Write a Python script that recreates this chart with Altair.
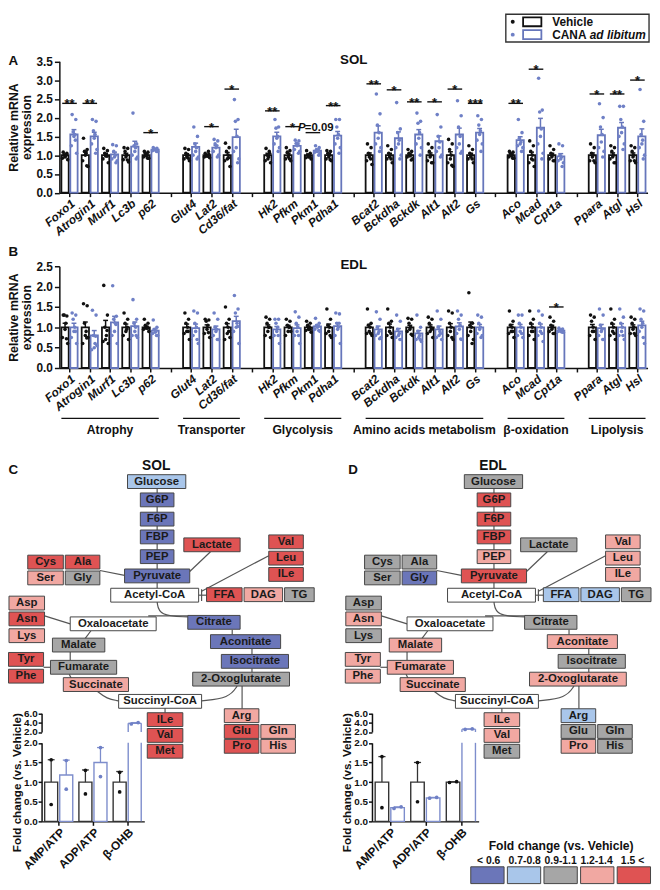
import altair as alt
import pandas as pd

# ---------------- canvas: page pixel = reference pixel (chart origin sits at the 8px page margin) --------
W, H = 652, 882
OX, OY = 8, 8


def sx(v):
    return round(v - OX, 2)


def sy(v):
    return round(v - OY, 2)


FONT = "Liberation Sans"
INK = "#111111"
BLUE = "#6676bb"
BLUE_DOT = "#6f80c6"

# ---------------- panel A / B data ----------------
GROUPS = ["Atrophy", "Transporter", "Glycolysis", "Amino acids metabolism", "β-oxidation", "Lipolysis"]
GROUP_GENES = [
    ["Foxo1", "Atrogin1", "Murf1", "Lc3b", "p62"],
    ["Glut4", "Lat2", "Cd36/fat"],
    ["Hk2", "Pfkm", "Pkm1", "Pdha1"],
    ["Bcat2", "Bckdha", "Bckdk", "Alt1", "Alt2", "Gs"],
    ["Aco", "Mcad", "Cpt1a"],
    ["Ppara", "Atgl", "Hsl"],
]
GENES = [g for grp in GROUP_GENES for g in grp]

SOL_VEH_MEAN = [1.0] * 24
SOL_VEH_SEM = [0.03, 0.09, 0.05, 0.05, 0.03, 0.04, 0.02, 0.07, 0.05, 0.05, 0.03, 0.04,
               0.06, 0.05, 0.03, 0.06, 0.09, 0.05, 0.03, 0.08, 0.05, 0.06, 0.06, 0.06]
SOL_CANA_MEAN = [1.55, 1.50, 1.02, 1.23, 1.15, 1.22, 1.20, 1.48, 1.50, 1.25, 1.12, 1.52,
                 1.60, 1.45, 1.55, 1.37, 1.55, 1.60, 1.40, 1.73, 0.97, 1.53, 1.73, 1.50]
SOL_CANA_SEM = [0.13, 0.11, 0.06, 0.14, 0.02, 0.10, 0.06, 0.21, 0.11, 0.05, 0.03, 0.11,
                0.18, 0.17, 0.13, 0.14, 0.17, 0.11, 0.09, 0.25, 0.07, 0.16, 0.14, 0.20]
SOL_VEH_DOTS = [
    [1.08, 1.05, 1.0, 0.98, 0.95, 0.92, 0.88, 1.02], [1.45, 1.15, 1.1, 1.05, 1.0, 0.85, 0.7, 0.72],
    [1.18, 1.12, 1.05, 1.0, 0.98, 0.9, 0.8, 0.97], [1.2, 1.18, 1.1, 1.0, 0.95, 0.88, 0.82, 0.87],
    [1.1, 1.08, 1.05, 1.0, 0.98, 0.95, 0.92, 0.92], [1.18, 1.15, 1.05, 1.0, 0.95, 0.9, 0.85, 0.92],
    [1.05, 1.02, 1.0, 0.98, 0.97, 0.95, 0.93, 1.1], [1.32, 1.2, 1.1, 1.0, 0.9, 0.85, 0.7, 0.93],
    [1.18, 1.05, 1.0, 0.95, 0.9, 0.85, 0.8, 1.1], [1.2, 1.12, 1.08, 1.0, 0.95, 0.9, 0.85, 0.9],
    [1.12, 1.05, 1.0, 0.98, 0.95, 0.93, 0.9, 0.95], [1.12, 1.1, 1.05, 1.0, 0.95, 0.9, 0.85, 0.88],
    [1.3, 1.2, 1.05, 1.0, 0.95, 0.85, 0.75, 0.9], [1.25, 1.15, 1.05, 1.0, 0.95, 0.9, 0.8, 0.9],
    [1.15, 1.1, 1.05, 1.0, 0.98, 0.95, 0.9, 0.87], [1.3, 1.2, 1.1, 1.0, 0.95, 0.85, 0.8, 0.8],
    [1.42, 1.3, 1.15, 1.0, 0.9, 0.8, 0.7, 0.73], [1.25, 1.15, 1.05, 1.0, 0.95, 0.9, 0.8, 0.9],
    [1.1, 1.08, 1.05, 1.0, 0.98, 0.95, 0.92, 0.92], [1.38, 1.25, 1.1, 1.0, 0.9, 0.8, 0.7, 0.87],
    [1.25, 1.15, 1.05, 1.0, 0.95, 0.9, 0.85, 0.85], [1.3, 1.2, 1.05, 1.0, 0.95, 0.85, 0.8, 0.85],
    [1.25, 1.2, 1.1, 1.0, 0.95, 0.9, 0.8, 0.8], [1.25, 1.2, 1.1, 1.0, 0.95, 0.85, 0.8, 0.85],
]
SOL_CANA_DOTS = [
    [2.08, 1.95, 1.62, 1.55, 1.5, 1.25, 1.05, 1.4], [1.95, 1.9, 1.65, 1.55, 1.45, 1.3, 1.15, 1.05],
    [1.28, 1.25, 1.1, 1.0, 0.95, 0.9, 0.85, 0.8], [2.12, 1.3, 1.25, 1.2, 1.1, 1.0, 0.95, 0.9],
    [1.2, 1.18, 1.17, 1.15, 1.14, 1.12, 1.1, 1.1], [1.75, 1.5, 1.3, 1.2, 1.1, 1.0, 0.95, 0.9],
    [1.42, 1.38, 1.3, 1.25, 1.2, 1.1, 1.0, 0.95], [2.48, 1.95, 1.9, 1.5, 1.2, 1.1, 0.9, 0.8],
    [1.95, 1.75, 1.72, 1.5, 1.45, 1.3, 1.2, 1.1], [1.4, 1.38, 1.32, 1.3, 1.25, 1.15, 1.1, 1.05],
    [1.25, 1.2, 1.15, 1.12, 1.1, 1.08, 1.05, 1.0], [1.95, 1.95, 1.75, 1.55, 1.45, 1.3, 1.2, 1.05],
    [2.63, 2.1, 1.8, 1.6, 1.45, 1.3, 1.2, 1.1], [2.4, 1.7, 1.6, 1.4, 1.3, 1.2, 1.0, 0.9],
    [2.12, 1.9, 1.85, 1.6, 1.45, 1.3, 1.2, 1.0], [2.08, 1.75, 1.5, 1.35, 1.2, 1.1, 1.0, 0.95],
    [2.45, 2.05, 1.75, 1.5, 1.3, 1.2, 1.1, 1.05], [2.05, 1.95, 1.8, 1.65, 1.55, 1.4, 1.3, 1.1],
    [1.95, 1.6, 1.45, 1.35, 1.3, 1.25, 1.2, 1.1], [3.05, 2.2, 2.15, 1.7, 1.5, 1.3, 1.05, 0.9],
    [1.3, 1.25, 1.0, 0.95, 0.9, 0.85, 0.8, 0.7], [2.37, 2.0, 1.75, 1.55, 1.35, 1.2, 1.1, 0.95],
    [2.3, 2.3, 1.95, 1.75, 1.6, 1.5, 1.3, 1.15], [2.75, 1.9, 1.55, 1.4, 1.3, 1.2, 1.0, 0.9],
]
SOL_SIG = [("Foxo1", 2.38, "**"), ("Atrogin1", 2.38, "**"), ("p62", 1.6, "*"), ("Lat2", 1.76, "*"),
           ("Cd36/fat", 2.76, "*"), ("Hk2", 2.18, "**"), ("Pfkm", 1.76, "*"), ("Pkm1", 1.6, ""),
           ("Pdha1", 2.32, "**"), ("Bcat2", 2.9, "**"), ("Bckdha", 2.74, "*"), ("Bckdk", 2.42, "**"),
           ("Alt1", 2.42, "*"), ("Alt2", 2.76, "*"), ("Gs", 2.38, "***"), ("Aco", 2.38, "**"),
           ("Mcad", 3.29, "*"), ("Ppara", 2.63, "*"), ("Atgl", 2.63, "**"), ("Hsl", 3.0, "*")]

EDL_VEH_MEAN = [1.0] * 24
EDL_VEH_SEM = [0.10, 0.13, 0.17, 0.08, 0.03, 0.08, 0.06, 0.09, 0.06, 0.05, 0.03, 0.08,
               0.07, 0.08, 0.05, 0.06, 0.09, 0.13, 0.07, 0.08, 0.05, 0.07, 0.08, 0.06]
EDL_CANA_MEAN = [1.0, 0.80, 1.12, 1.03, 0.92, 0.98, 0.95, 1.15, 0.95, 0.98, 1.02, 1.03,
                 0.95, 0.90, 0.85, 0.95, 1.02, 1.0, 1.0, 1.0, 0.92, 0.98, 1.0, 1.05]
EDL_CANA_SEM = [0.10, 0.12, 0.15, 0.10, 0.04, 0.10, 0.08, 0.12, 0.07, 0.08, 0.03, 0.08,
                0.08, 0.07, 0.07, 0.08, 0.09, 0.07, 0.07, 0.08, 0.02, 0.09, 0.09, 0.10]
EDL_VEH_DOTS = [
    [1.3, 1.28, 1.3, 1.1, 0.95, 0.75, 0.6, 0.72], [1.58, 1.53, 1.1, 0.9, 0.8, 0.6, 0.75, 0.74],
    [2.03, 1.3, 1.0, 0.8, 0.7, 0.65, 0.6, 0.92], [1.35, 1.2, 1.1, 0.95, 0.9, 0.8, 0.7, 1.0],
    [1.2, 1.1, 1.05, 1.0, 0.98, 0.95, 0.9, 0.98], [1.35, 1.2, 1.1, 1.0, 0.9, 0.85, 0.7, 0.9],
    [1.2, 1.18, 1.15, 1.05, 0.95, 0.85, 0.75, 0.87], [1.5, 1.2, 1.1, 1.0, 0.85, 0.7, 0.75, 0.9],
    [1.25, 1.2, 1.1, 1.0, 0.9, 0.8, 0.75, 1.0], [1.2, 1.15, 1.05, 1.0, 0.9, 0.8, 0.9, 1.0],
    [1.15, 1.1, 1.05, 1.0, 0.95, 0.92, 0.88, 0.95], [1.45, 1.2, 1.05, 1.0, 0.9, 0.85, 0.75, 0.8],
    [1.45, 1.1, 1.05, 1.0, 0.9, 0.85, 0.8, 0.85], [1.45, 1.15, 1.1, 1.0, 0.9, 0.8, 0.75, 0.85],
    [1.22, 1.2, 1.1, 1.0, 0.95, 0.9, 0.8, 0.83], [1.25, 1.2, 1.1, 1.0, 0.9, 0.85, 0.75, 0.95],
    [1.4, 1.35, 1.1, 1.0, 0.9, 0.8, 0.7, 0.75], [1.85, 1.1, 1.05, 1.0, 0.9, 0.8, 0.7, 0.6],
    [1.4, 1.15, 1.05, 1.0, 0.9, 0.85, 0.75, 0.9], [1.4, 1.2, 1.1, 1.0, 0.9, 0.8, 0.7, 0.9],
    [1.25, 1.15, 1.05, 1.0, 0.95, 0.9, 0.85, 0.85], [1.3, 1.25, 1.15, 1.0, 0.9, 0.8, 0.7, 0.9],
    [1.45, 1.2, 1.1, 1.0, 0.9, 0.8, 0.7, 0.85], [1.25, 1.2, 1.1, 1.0, 0.95, 0.85, 0.8, 0.85],
]
EDL_CANA_DOTS = [
    [1.35, 1.3, 1.2, 1.0, 0.9, 0.75, 0.6, 0.9], [1.42, 1.3, 0.8, 0.6, 0.5, 0.45, 0.55, 0.78],
    [2.02, 1.27, 1.2, 1.1, 0.9, 0.8, 0.6, 1.07], [1.68, 1.2, 1.1, 1.0, 0.9, 0.8, 0.75, 0.8],
    [1.18, 1.0, 0.95, 0.9, 0.88, 0.85, 0.8, 0.8], [1.4, 1.35, 1.1, 1.0, 0.9, 0.8, 0.6, 0.7],
    [1.35, 1.2, 1.0, 0.95, 0.9, 0.8, 0.7, 0.7], [1.78, 1.45, 1.35, 1.1, 1.0, 0.9, 0.6, 1.02],
    [1.2, 1.2, 1.1, 1.0, 0.9, 0.8, 0.6, 0.8], [1.38, 1.25, 1.1, 1.0, 0.9, 0.8, 0.6, 0.8],
    [1.22, 1.1, 1.05, 1.02, 1.0, 0.95, 0.9, 0.92], [1.35, 1.33, 1.1, 1.0, 0.95, 0.8, 0.6, 1.1],
    [1.38, 1.2, 1.0, 0.9, 0.85, 0.8, 0.75, 0.72], [1.3, 1.15, 0.95, 0.85, 0.8, 0.75, 0.7, 0.7],
    [1.3, 1.0, 0.9, 0.8, 0.75, 0.7, 0.65, 0.7], [1.4, 1.2, 1.0, 0.9, 0.8, 0.75, 0.7, 0.85],
    [1.4, 1.3, 1.2, 1.05, 0.95, 0.85, 0.7, 0.71], [1.3, 1.25, 1.1, 1.0, 0.95, 0.85, 0.8, 0.75],
    [1.3, 1.3, 1.1, 1.0, 0.9, 0.8, 0.75, 0.85], [1.4, 1.3, 1.1, 1.0, 0.9, 0.8, 0.65, 0.85],
    [0.98, 0.96, 0.94, 0.92, 0.9, 0.9, 0.88, 0.88], [1.45, 1.3, 1.05, 0.95, 0.9, 0.8, 0.7, 0.7],
    [1.45, 1.25, 1.1, 1.0, 0.9, 0.8, 0.7, 0.8], [1.45, 1.4, 1.2, 1.1, 1.0, 0.9, 0.6, 0.75],
]
EDL_SIG = [("Cpt1a", 1.5, "*")]

# ---------------- inset data (C, D) ----------------
INSET_CATS = ["AMP/ATP", "ADP/ATP", "β-OHB"]
SOL_IN_VEH_MEAN = [1.0, 1.0, 1.0]
SOL_IN_VEH_ERR = [0.57, 0.31, 0.27]
SOL_IN_VEH_DOTS = [[0.43, 1.57], [0.70, 1.30], [0.75, 1.25]]
SOL_IN_CANA_MEAN = [1.18, 1.50, 3.85]
SOL_IN_CANA_ERR = [0.38, 0.38, 0.15]
SOL_IN_CANA_DOTS = [[0.82, 1.55], [1.14, 1.88], [3.70, 4.00]]
EDL_IN_VEH_MEAN = [1.0, 1.0, 1.0]
EDL_IN_VEH_ERR = [0.65, 0.50, 0.01]
EDL_IN_VEH_DOTS = [[0.35, 1.65], [0.50, 1.50], [0.99, 1.01]]
EDL_IN_CANA_MEAN = [0.35, 0.60, 2.60]
EDL_IN_CANA_ERR = [0.02, 0.01, 0.05]
EDL_IN_CANA_DOTS = [[0.33, 0.37], [0.59, 0.61], [2.55, 2.65]]

# ---------------- metabolic map (C layout, D = C shifted) ----------------
NODES = [
    ("Glucose", 129, 188, 482), ("G6P", 142, 176, 500.5), ("F6P", 142, 176, 520), ("FBP", 142, 176, 538),
    ("PEP", 142, 176, 558), ("Pyruvate", 126, 192, 577.5), ("Lactate", 186, 243, 546),
    ("Cys", 28, 64, 563.5), ("Ala", 66, 101, 563.5), ("Ser", 28, 64, 579.5), ("Gly", 66, 101, 579.5),
    ("Val", 272, 307, 543), ("Leu", 272, 307, 559.5), ("ILe", 272, 307, 576),
    ("Acetyl-CoA", 112, 201, 597), ("FFA", 209, 245, 596.5), ("DAG", 247, 286, 596.5), ("TG", 288, 318, 596.5),
    ("Asp", 9, 45, 605), ("Asn", 9, 45, 621), ("Lys", 9, 45, 638),
    ("Oxaloacetate", 71, 158, 626), ("Citrate", 190, 243, 624.5), ("Malate", 53, 106, 647.5),
    ("Aconitate", 213, 284, 644), ("Tyr", 8.5, 44, 662), ("Phe", 8.5, 44, 679), ("Fumarate", 51, 118, 670),
    ("Isocitrate", 224, 292, 664), ("Succinate", 64, 130, 687.5), ("2-Oxoglutarate", 195, 293, 682),
    ("Succinyl-CoA", 120, 204, 704.5), ("ILe", 149, 185, 723), ("Val", 149, 185, 739), ("Met", 149, 185, 755),
    ("Arg", 227, 262, 719), ("Glu", 227, 262, 735), ("Gln", 264, 299, 735), ("Pro", 227, 262, 750),
    ("His", 264, 299, 750),
]
SOL_COLORS = ["lb", "b", "b", "b", "b", "b", "r", "r", "r", "lr", "g", "r", "r", "r", "w", "r", "lr", "g",
              "lr", "r", "lr", "w", "b", "g", "b", "r", "r", "g", "b", "lr", "g", "w", "r", "r", "r",
              "lr", "r", "lr", "r", "lr"]
EDL_COLORS = ["g", "r", "r", "r", "lr", "r", "g", "g", "g", "g", "b", "lr", "lr", "lr", "w", "lb", "lb", "g",
              "g", "lr", "g", "w", "g", "lr", "lr", "lr", "lr", "lr", "g", "lr", "lr", "w", "lr", "lr", "g",
              "lb", "g", "g", "lr", "g"]
LINKS = [
    [(159, 482), (159, 597)], [(192, 573), (213, 553)], [(101, 572), (126, 577)],
    [(272, 557), (204, 593)], [(201, 597), (209, 597)], [(204, 591), (204, 603)],
    [(159, 604), (161, 618), (190, 619)], [(150, 618), (190, 618)], [(45, 618), (71, 626)],
    [(86, 641), (92, 633)], [(71, 654), (71, 663)], [(44, 670), (51, 670)], [(70, 677), (72, 681)],
    [(98, 694), (108, 702), (120, 704)], [(240, 689), (232, 701), (204, 704)], [(245, 689), (245, 712)],
    [(235, 632), (235, 637)], [(255, 651), (255, 657)], [(255, 671), (255, 675)], [(167, 711), (167, 716)],
]
PALETTE = {"b": "#6b76b9", "lb": "#a9c6ea", "g": "#a6a6a6", "lr": "#f1a8a2", "r": "#df5353", "w": "#ffffff"}
LEG_LABELS = ["< 0.6", "0.7-0.8", "0.9-1.1", "1.2-1.4", "1.5 <"]
LEG_CODES = ["b", "lb", "g", "lr", "r"]

# ---------------- helpers ----------------
SLOT, SLOT_LABELS = {}, []
for gi, genes in enumerate(GROUP_GENES):
    if gi:
        SLOT_LABELS.append("")
    for g in genes:
        SLOT[g] = len(SLOT_LABELS)
        SLOT_LABELS.append(g)
NS = len(SLOT_LABELS)
LABEL_EXPR = "[" + ",".join("'%s'" % s for s in SLOT_LABELS) + "][datum.value]"

GOFF = "(datum.grp == 'Vehicle' ? -0.22 : 0.22)"
SCOL = "(datum.grp == 'Vehicle' ? '%s' : '%s')" % (INK, BLUE)
DCOL = "(datum.grp == 'Vehicle' ? '%s' : '%s')" % (INK, BLUE_DOT)
JIT = "[-0.09, 0.09, -0.04, 0.04, 0, -0.13, 0.13, 0.07]"

MX = alt.Scale(domain=[OX, OX + W], range=[0, W], nice=False, zero=False)
MY = alt.Scale(domain=[OY, OY + H], range=[0, H], nice=False, zero=False)


def frames(vm, vs, vd, cm, cs, cd):
    bars, dots = [], []
    for i, g in enumerate(GENES):
        for grp, m, s, d in (("Vehicle", vm[i], vs[i], vd[i]), ("CANA", cm[i], cs[i], cd[i])):
            bars.append(dict(gene=g, slot=SLOT[g], grp=grp, mean=m, sem=s))
            for k, v in enumerate(d):
                dots.append(dict(gene=g, slot=SLOT[g], grp=grp, val=v, k=k))
    return pd.DataFrame(bars), pd.DataFrame(dots)


def expr_layers(bars, dots, sig, ymax, y0px, ytpx):
    xs = alt.Scale(domain=[-0.5, NS - 0.5], range=[sx(60), sx(655.5)], nice=False, zero=False)
    ys = alt.Scale(domain=[0, ymax], range=[sy(y0px), sy(ytpx)], nice=False, zero=False)
    yvals = [i * 0.5 for i in range(int(ymax * 2) + 1)]
    xax = alt.Axis(orient="bottom", offset=-(H - sy(y0px)), values=list(range(NS)), labelExpr=LABEL_EXPR,
                   labelAngle=-40, labelFontStyle="italic", labelFontSize=12, labelPadding=1, tickSize=4,
                   labelOverlap=False, labelFlush=False, title=None)
    yax = alt.Axis(orient="left", offset=-sx(60), values=yvals, format=".1f", labelFontSize=12, tickSize=5,
                   labelPadding=2, labelOverlap=False, labelFlush=False, title=["Relative mRNA", "expression"],
                   titleFontSize=12.5, titlePadding=3, titleLineHeight=13)
    base = alt.Chart(bars).transform_calculate(
        xc="datum.slot + " + GOFF, xl="datum.slot + " + GOFF + " - 0.18", xr="datum.slot + " + GOFF + " + 0.18",
        cl="datum.slot + " + GOFF + " - 0.12", cr="datum.slot + " + GOFF + " + 0.12",
        top="datum.mean + datum.sem", z="0", sc=SCOL)
    bar = base.mark_bar(fill="white", strokeWidth=1.8).encode(
        x=alt.X("xl:Q", scale=xs, axis=xax), x2="xr:Q",
        y=alt.Y("z:Q", scale=ys, axis=yax), y2="mean:Q", stroke=alt.Stroke("sc:N", scale=None))
    err = base.mark_rule(strokeWidth=1.5).encode(
        x=alt.X("xc:Q", scale=xs, axis=None), y=alt.Y("mean:Q", scale=ys, axis=None), y2="top:Q",
        stroke=alt.Stroke("sc:N", scale=None))
    cap = base.mark_rule(strokeWidth=1.5).encode(
        x=alt.X("cl:Q", scale=xs, axis=None), x2="cr:Q", y=alt.Y("top:Q", scale=ys, axis=None),
        stroke=alt.Stroke("sc:N", scale=None))
    dot = alt.Chart(dots).transform_calculate(
        xd="datum.slot + " + GOFF + " + " + JIT + "[datum.k % 8]", dc=DCOL
    ).mark_circle(size=13, opacity=1).encode(
        x=alt.X("xd:Q", scale=xs, axis=None), y=alt.Y("val:Q", scale=ys, axis=None),
        color=alt.Color("dc:N", scale=None))
    sdf = pd.DataFrame([dict(slot=SLOT[g], y=y, lab=l) for g, y, l in sig])
    sline = alt.Chart(sdf).transform_calculate(l="datum.slot - 0.36", r="datum.slot + 0.36").mark_rule(
        color=INK, strokeWidth=1.4).encode(
        x=alt.X("l:Q", scale=xs, axis=None), x2="r:Q", y=alt.Y("y:Q", scale=ys, axis=None))
    stext = alt.Chart(sdf).mark_text(font=FONT, fontWeight="bold", fontSize=13, baseline="alphabetic",
                                     dy=5, color=INK).encode(
        x=alt.X("slot:Q", scale=xs, axis=None), y=alt.Y("y:Q", scale=ys, axis=None), text="lab:N")
    return [bar, err, cap, dot, sline, stext], xs


def map_layers(dx, colors):
    bx = pd.DataFrame([dict(name=n, x0=x0 + dx, x1=x1 + dx, xm=(x0 + x1) / 2 + dx, y0=yc - 7, y1=yc + 7, yc=yc,
                            fc=PALETTE[c]) for (n, x0, x1, yc), c in zip(NODES, colors)])
    pts = pd.DataFrame([dict(p=pi, k=k, x=x + dx, y=y) for pi, path in enumerate(LINKS)
                        for k, (x, y) in enumerate(path)])
    lines = alt.Chart(pts).mark_line(color="#555555", strokeWidth=1.2, interpolate="basis").encode(
        x=alt.X("x:Q", scale=MX, axis=None), y=alt.Y("y:Q", scale=MY, axis=None),
        detail="p:N", order="k:Q")
    rects = alt.Chart(bx).mark_rect(stroke="#454545", strokeWidth=1).encode(
        x=alt.X("x0:Q", scale=MX, axis=None), x2="x1:Q", y=alt.Y("y0:Q", scale=MY, axis=None), y2="y1:Q",
        fill=alt.Fill("fc:N", scale=None))
    texts = alt.Chart(bx).mark_text(font=FONT, fontWeight="bold", fontSize=11.5, color="#1b1b1b",
                                    baseline="middle").encode(
        x=alt.X("xm:Q", scale=MX, axis=None), y=alt.Y("yc:Q", scale=MY, axis=None), text="name:N")
    return [lines, rects, texts]


def inset_layers(x0px, wpx, vm, ve, vd, cm, ce, cd):
    xs = alt.Scale(domain=[-0.5, 2.5], range=[sx(x0px), sx(x0px + wpx)], nice=False, zero=False)
    ylo = alt.Scale(domain=[0, 2], range=[sy(826), sy(746.5)], nice=False, zero=False)
    yhi = alt.Scale(domain=[2, 6], range=[sy(735.5), sy(716.5)], nice=False, zero=False)
    rows, drows = [], []
    for i in range(3):
        for grp, m, e, d in (("Vehicle", vm[i], ve[i], vd[i]), ("CANA", cm[i], ce[i], cd[i])):
            rows.append(dict(idx=i, grp=grp, mean=m, err=e))
            for k, v in enumerate(d):
                drows.append(dict(idx=i, grp=grp, val=v, k=k))
    bdf, ddf = pd.DataFrame(rows), pd.DataFrame(drows)
    scol = "(datum.grp == 'Vehicle' ? '#333333' : '#7d8dcc')"
    base = alt.Chart(bdf).transform_calculate(
        xl="datum.idx + (datum.grp == 'Vehicle' ? -0.41 : 0.03)",
        xr="datum.idx + (datum.grp == 'Vehicle' ? -0.03 : 0.41)",
        xc="datum.idx + (datum.grp == 'Vehicle' ? -0.22 : 0.22)",
        cl="datum.idx + (datum.grp == 'Vehicle' ? -0.32 : 0.12)",
        cr="datum.idx + (datum.grp == 'Vehicle' ? -0.12 : 0.32)",
        top="datum.mean + datum.err", z="0", two="2", sc=scol)
    xax = alt.Axis(orient="bottom", offset=-(H - sy(826)), values=[0, 1, 2],
                   labelExpr="['AMP/ATP','ADP/ATP','β-OHB'][datum.value]", labelAngle=-45, labelFontSize=12,
                   labelPadding=1, tickSize=4, labelOverlap=False, labelFlush=False, title=None)
    ylax = alt.Axis(orient="left", offset=-sx(x0px), values=[0, 0.5, 1, 1.5, 2], format=".1f", labelFontSize=10,
                    tickSize=3.5, labelPadding=1, labelOverlap=False, labelFlush=False,
                    title="Fold change (vs. Vehicle)", titleFontSize=11.8, titlePadding=1)
    yhax = alt.Axis(orient="left", offset=-sx(x0px), values=[2, 4, 6], format=".1f", labelFontSize=10,
                    tickSize=3.5, labelPadding=1, labelOverlap=False, labelFlush=False, title=None)
    st = alt.Stroke("sc:N", scale=None)
    # bars that fit below the break: closed boxes
    lo_bar = base.transform_filter("datum.mean <= 2").mark_bar(fill="white", strokeWidth=1.4).encode(
        x=alt.X("xl:Q", scale=xs, axis=xax), x2="xr:Q", y=alt.Y("z:Q", scale=ylo, axis=ylax), y2="mean:Q",
        stroke=st)
    # bars crossing the break: open sides below, sides + top above
    tall = base.transform_filter("datum.mean > 2").transform_fold(["xl", "xr"], as_=["side", "sx"])
    lo_side = tall.mark_rule(strokeWidth=1.4).encode(
        x=alt.X("sx:Q", scale=xs, axis=None), y=alt.Y("z:Q", scale=ylo, axis=None), y2="two:Q", stroke=st)
    hi_side = tall.mark_rule(strokeWidth=1.4).encode(
        x=alt.X("sx:Q", scale=xs, axis=None), y=alt.Y("two:Q", scale=yhi, axis=yhax), y2="mean:Q", stroke=st)
    hi_top = base.transform_filter("datum.mean > 2").mark_rule(strokeWidth=1.4).encode(
        x=alt.X("xl:Q", scale=xs, axis=None), x2="xr:Q", y=alt.Y("mean:Q", scale=yhi, axis=None), stroke=st)
    layers = [lo_bar, lo_side, hi_side, hi_top]
    for ysc, flt in ((ylo, "datum.mean <= 2"), (yhi, "datum.mean > 2")):
        b = base.transform_filter(flt)
        layers.append(b.mark_rule(strokeWidth=1.3).encode(
            x=alt.X("xc:Q", scale=xs, axis=None), y=alt.Y("mean:Q", scale=ysc, axis=None), y2="top:Q", stroke=st))
        layers.append(b.mark_rule(strokeWidth=1.3).encode(
            x=alt.X("cl:Q", scale=xs, axis=None), x2="cr:Q", y=alt.Y("top:Q", scale=ysc, axis=None), stroke=st))
    dbase = alt.Chart(ddf).transform_joinaggregate(
        lo="min(val)", hi="max(val)", groupby=["idx", "grp"]).transform_calculate(
        xd="datum.idx + (datum.grp == 'Vehicle' ? -0.22 : 0.22) + "
           "((datum.hi - datum.lo) < 0.3 ? (datum.k == 0 ? -0.1 : 0.1) : 0)",
        dc="(datum.grp == 'Vehicle' ? '%s' : '%s')" % (INK, BLUE_DOT))
    for ysc, flt in ((ylo, "datum.val <= 2"), (yhi, "datum.val > 2")):
        layers.append(dbase.transform_filter(flt).mark_circle(size=14, opacity=1).encode(
            x=alt.X("xd:Q", scale=xs, axis=None), y=alt.Y("val:Q", scale=ysc, axis=None),
            color=alt.Color("dc:N", scale=None)))
    return layers


# ---------------- build ----------------
layers = []

sol_bars, sol_dots = frames(SOL_VEH_MEAN, SOL_VEH_SEM, SOL_VEH_DOTS, SOL_CANA_MEAN, SOL_CANA_SEM, SOL_CANA_DOTS)
edl_bars, edl_dots = frames(EDL_VEH_MEAN, EDL_VEH_SEM, EDL_VEH_DOTS, EDL_CANA_MEAN, EDL_CANA_SEM, EDL_CANA_DOTS)
la, xsA = expr_layers(sol_bars, sol_dots, SOL_SIG, 3.5, 189.5, 56.5)
lb, xsB = expr_layers(edl_bars, edl_dots, EDL_SIG, 2.5, 367, 264)
layers += la + lb

# P value annotation (panel A, Pkm1)
pv = pd.DataFrame([dict(t="P", x=301.5, y=127.5, it="italic"), dict(t="=0.09", x=308.5, y=127.5, it="normal")])
for style in ("italic", "normal"):
    layers.append(alt.Chart(pv).transform_filter("datum.it == '%s'" % style).mark_text(
        font=FONT, fontWeight="bold", fontStyle=style, fontSize=11.5, align="left", baseline="alphabetic",
        color=INK).encode(x=alt.X("x:Q", scale=MX, axis=None), y=alt.Y("y:Q", scale=MY, axis=None), text="t:N"))

# group brackets under panel B
gdf = pd.DataFrame([dict(name=n, a=SLOT[g[0]] - 0.4, b=SLOT[g[-1]] + 0.4, m=(SLOT[g[0]] + SLOT[g[-1]]) / 2,
                         y=418, ty=429.5) for n, g in zip(GROUPS, GROUP_GENES)])
layers.append(alt.Chart(gdf).mark_rule(color=INK, strokeWidth=1.3).encode(
    x=alt.X("a:Q", scale=xsB, axis=None), x2="b:Q", y=alt.Y("y:Q", scale=MY, axis=None)))
layers.append(alt.Chart(gdf).mark_text(font=FONT, fontWeight="bold", fontSize=12.3, color=INK,
                                       baseline="middle").encode(
    x=alt.X("m:Q", scale=xsB, axis=None), y=alt.Y("ty:Q", scale=MY, axis=None), text="name:N"))

# top-right legend box
layers.append(alt.Chart(pd.DataFrame([dict(x0=512, x1=657, y0=8.8, y1=37)])).mark_rect(
    fill="white", stroke="#333333", strokeWidth=1.4).encode(
    x=alt.X("x0:Q", scale=MX, axis=None), x2="x1:Q", y=alt.Y("y0:Q", scale=MY, axis=None), y2="y1:Q"))
lg = pd.DataFrame([dict(grp="Vehicle", y=16.5, sc=INK, dc=INK), dict(grp="CANA", y=29.5, sc=BLUE, dc=BLUE_DOT)])
layers.append(alt.Chart(lg).transform_calculate(xd="519", x0="529.5", x1="548", y0="datum.y - 4.5",
                                                y1="datum.y + 4.5").mark_rect(fill="white", strokeWidth=1.8).encode(
    x=alt.X("x0:Q", scale=MX, axis=None), x2="x1:Q", y=alt.Y("y0:Q", scale=MY, axis=None), y2="y1:Q",
    stroke=alt.Stroke("sc:N", scale=None)))
layers.append(alt.Chart(lg).transform_calculate(xd="519").mark_circle(size=16, opacity=1).encode(
    x=alt.X("xd:Q", scale=MX, axis=None), y=alt.Y("y:Q", scale=MY, axis=None), color=alt.Color("dc:N", scale=None)))

# text labels (left aligned / centred / italic)
TXT_LEFT = [("A", 8.5, 56, 13.5), ("B", 8.5, 250, 13.5), ("C", 8.5, 470, 13.5), ("D", 352.5, 470, 13.5),
            ("Vehicle", 559, 16.5, 12), ("CANA", 559, 29.5, 12)]
TXT_CENTER = [("SOL", 358, 55, 13.5), ("EDL", 358, 263, 13.5), ("SOL", 158, 466, 14), ("EDL", 499, 466, 14),
              ("Fold change (vs. Vehicle)", 568, 851, 12.3)]
TXT_ITALIC = [("ad libitum", 597, 29.5, 12)]
for rows, align, style in ((TXT_LEFT, "left", "normal"), (TXT_CENTER, "center", "normal"),
                           (TXT_ITALIC, "left", "italic")):
    df = pd.DataFrame([dict(t=t, x=x, y=y, s=s) for t, x, y, s in rows])
    layers.append(alt.Chart(df).mark_text(font=FONT, fontWeight="bold", fontStyle=style, align=align,
                                          baseline="middle", color=INK).encode(
        x=alt.X("x:Q", scale=MX, axis=None), y=alt.Y("y:Q", scale=MY, axis=None), text="t:N",
        size=alt.Size("s:Q", scale=None)))

# metabolic maps + insets
layers += map_layers(0, SOL_COLORS)
layers += map_layers(341, EDL_COLORS)
layers += inset_layers(42, 104, SOL_IN_VEH_MEAN, SOL_IN_VEH_ERR, SOL_IN_VEH_DOTS,
                       SOL_IN_CANA_MEAN, SOL_IN_CANA_ERR, SOL_IN_CANA_DOTS)
layers += inset_layers(376.5, 108, EDL_IN_VEH_MEAN, EDL_IN_VEH_ERR, EDL_IN_VEH_DOTS,
                       EDL_IN_CANA_MEAN, EDL_IN_CANA_ERR, EDL_IN_CANA_DOTS)

# colour key
legx = alt.Scale(domain=LEG_LABELS, range=[sx(476.5), sx(658.5)], paddingInner=0.09, paddingOuter=0)
kdf = pd.DataFrame([dict(lab=l, fc=PALETTE[c], y0=872, y1=889, ty=866) for l, c in zip(LEG_LABELS, LEG_CODES)])
layers.append(alt.Chart(kdf).mark_rect(stroke="#444444", strokeWidth=1).encode(
    x=alt.X("lab:N", scale=legx, axis=None), y=alt.Y("y0:Q", scale=MY, axis=None), y2="y1:Q",
    fill=alt.Fill("fc:N", scale=None)))
layers.append(alt.Chart(kdf).mark_text(font=FONT, fontWeight="bold", fontSize=10.5, color=INK,
                                       baseline="middle").encode(
    x=alt.X("lab:N", scale=legx, axis=None), y=alt.Y("ty:Q", scale=MY, axis=None), text="lab:N"))

chart = alt.layer(*layers).resolve_scale(x="independent", y="independent").properties(
    width=W, height=H, autosize=alt.AutoSizeParams(type="none"), padding=0, background="white"
).configure_view(strokeWidth=0).configure_axis(
    grid=False, domainColor=INK, tickColor=INK, labelColor=INK, titleColor=INK, labelFont=FONT, titleFont=FONT,
    labelFontWeight="bold", titleFontWeight="bold", domainWidth=1.5, tickWidth=1.5)

chart.save("out.html", embed_options={"renderer": "svg", "actions": False})
